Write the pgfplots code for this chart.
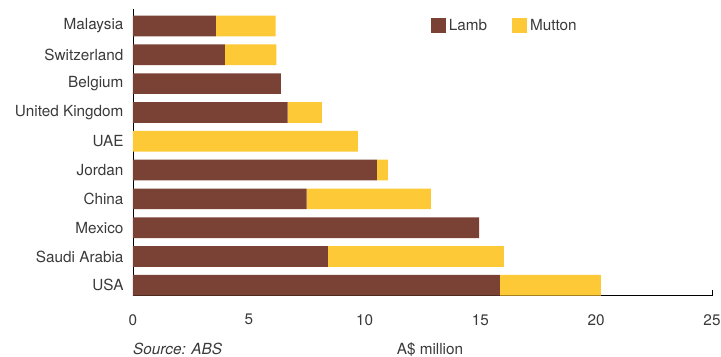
\documentclass[border=0pt]{standalone}
\usepackage{fontspec}
\setmainfont{TeX Gyre Heros}
\usepackage{pgfplots}
\pgfplotsset{compat=1.18}
\definecolor{lamb}{HTML}{7A4234}
\definecolor{mutton}{HTML}{FDC936}
\definecolor{txt}{HTML}{3A3A3A}
\begin{document}
\begin{tikzpicture}[font=\fontsize{15.3bp}{17bp}\selectfont, text=txt]
\useasboundingbox (-133bp,-61.3bp) rectangle (588bp,295.7bp);
\begin{axis}[
  at={(0,0)}, anchor=south west,
  scale only axis, width=579bp, height=287bp,
  xbar stacked, bar width=20.7bp,
  xmin=0, xmax=25, ymin=-0.36, ymax=9.6,
  axis lines*=left,
  axis line style={black, line width=0.8pt},
  xtick={0,5,10,15,20,25},
  tick align=inside, major tick length=6bp,
  xtick style={black, line width=0.8pt},
  ytick={0,...,9},
  yticklabels={USA,Saudi Arabia,Mexico,China,Jordan,UAE,United Kingdom,Belgium,Switzerland,Malaysia},
  ytick style={draw=none},
  yticklabel style={xshift=-6bp},
  xticklabel style={yshift=-15bp},
  /pgf/number format/assume math mode=true,
  legend columns=2,
  legend style={draw=none, fill=none, at={(0.514,0.94)}, anchor=west, inner sep=0pt,
    /tikz/every even column/.append style={column sep=22bp},
    nodes={inner sep=3bp}},
  legend image code/.code={\fill[#1] (0bp,-7.5bp) rectangle (15bp,7.5bp);},
  clip=false,
]
\addplot[fill=lamb, draw=none] coordinates {
  (15.84,0) (8.41,1) (14.95,2) (7.5,3) (10.53,4) (0,5) (6.68,6) (6.38,7) (3.97,8) (3.58,9)};
\addplot[fill=mutton, draw=none] coordinates {
  (4.36,0) (7.6,1) (0,2) (5.36,3) (0.47,4) (9.71,5) (1.47,6) (0,7) (2.22,8) (2.58,9)};
\legend{Lamb, Mutton}
\end{axis}
\node[anchor=base west, inner sep=0pt, font=\fontsize{15.3bp}{17bp}\selectfont\itshape] at (0bp,-59bp) {Source: ABS};
\node[anchor=base, inner sep=0pt] at (297bp,-59bp) {A\$ million};
\end{tikzpicture}
\end{document}
